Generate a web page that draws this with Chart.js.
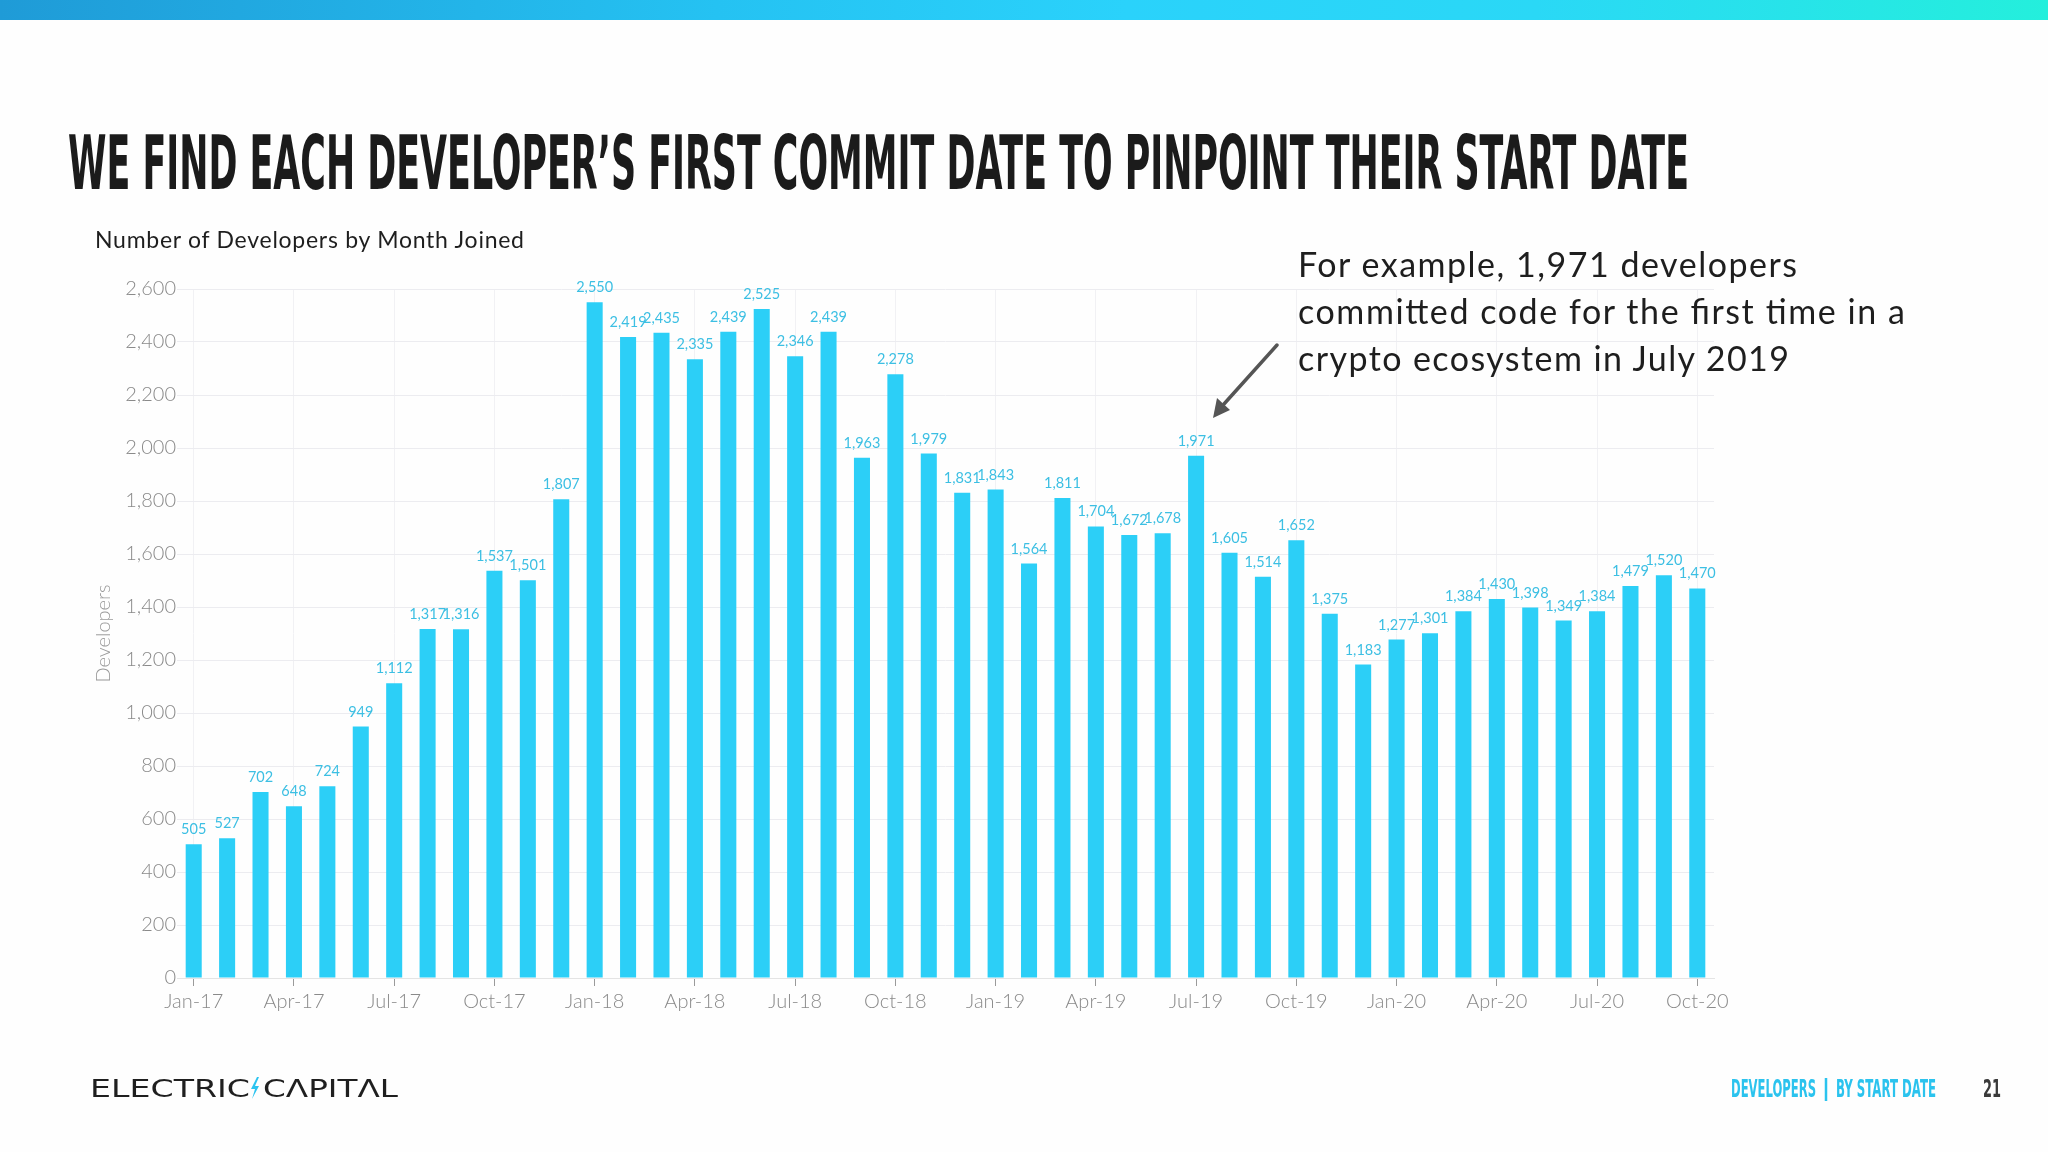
<!DOCTYPE html>
<html>
<head>
<meta charset="utf-8">
<script src="https://cdn.jsdelivr.net/npm/chart.js@4.4.1/dist/chart.umd.min.js"></script>
<style>
  html, body { margin: 0; padding: 0; background: #fefefe; }
  #page { position: relative; width: 2048px; height: 1152px; overflow: hidden; background: #fefefe; }
  #topbar { position: absolute; left: 0; top: 0; width: 2048px; height: 20px;
    background: linear-gradient(90deg, #1f9bd7 0%, #25c2f2 35%, #2ad2fb 55%, #2ad8f6 75%, #24efdc 100%); }
  #chart { position: absolute; left: 0; top: 0; }
  #overlay { position: absolute; left: 0; top: 0; pointer-events: none; }
</style>
</head>
<body>
<div id="page">
  <div id="topbar"></div>
  <canvas id="chart" width="2048" height="1152"></canvas>
  <svg id="overlay" width="2048" height="1152" viewBox="0 0 2048 1152">
    <!-- slide title -->
    <text x="68" y="189" font-family="Liberation Sans Narrow, DejaVu Sans Condensed, sans-serif" font-weight="700"
          font-size="75.6" fill="#1b1b1b" textLength="1621" lengthAdjust="spacingAndGlyphs">WE FIND EACH DEVELOPER’S FIRST COMMIT DATE TO PINPOINT THEIR START DATE</text>
    <!-- chart heading -->
    <text x="95" y="248" font-family="Lato, sans-serif" font-size="23" fill="#1e1e1e" textLength="429">Number of Developers by Month Joined</text>
    <!-- annotation -->
    <g font-family="Lato, sans-serif" font-size="34" fill="#1e1e1e">
      <text x="1298" y="277" textLength="499">For example, 1,971 developers</text>
      <text x="1298" y="324" textLength="607">committed code for the first time in a</text>
      <text x="1298" y="371" textLength="491">crypto ecosystem in July 2019</text>
    </g>
    <line x1="1277" y1="345" x2="1224" y2="404" stroke="#555" stroke-width="3.5" stroke-linecap="round"/>
    <polygon points="1213,418 1217,398 1230,410" fill="#555"/>
    <!-- footer logo -->
    <g style="font-family: 'DejaVu Sans', sans-serif; font-weight: 400; font-size: 25px;" fill="#1f1f1f">
      <text x="90" y="1097" textLength="160" lengthAdjust="spacingAndGlyphs">ELECTRIC</text>
      <text x="263" y="1097" textLength="135" lengthAdjust="spacingAndGlyphs">CΛPITΛL</text>
    </g>
    <polygon points="257,1077 251,1089 255,1089 252,1099 259,1086 255,1086 259,1077" fill="#2cc4f0"/>
    <!-- footer right -->
    <g font-family="Liberation Sans Narrow, DejaVu Sans Condensed, sans-serif" font-weight="700" font-size="24.7">
      <text x="1731" y="1097" fill="#2bc3ee" textLength="85" lengthAdjust="spacingAndGlyphs">DEVELOPERS</text>
      <text x="1836" y="1097" fill="#2bc3ee" textLength="100" lengthAdjust="spacingAndGlyphs">BY START DATE</text>
      <text x="1983" y="1097" fill="#3a3a3a" textLength="18" lengthAdjust="spacingAndGlyphs">21</text>
    </g>
    <line x1="1826" y1="1078" x2="1826" y2="1101" stroke="#2bc3ee" stroke-width="2.5"/>
  </svg>
</div>

<script>
// Month joined (Jan-17 .. Oct-20)
const months = [
    'Jan-17', 'Feb-17', 'Mar-17', 'Apr-17', 'May-17', 'Jun-17', 'Jul-17', 'Aug-17', 'Sep-17', 'Oct-17', 'Nov-17', 'Dec-17',
    'Jan-18', 'Feb-18', 'Mar-18', 'Apr-18', 'May-18', 'Jun-18', 'Jul-18', 'Aug-18', 'Sep-18', 'Oct-18', 'Nov-18', 'Dec-18',
    'Jan-19', 'Feb-19', 'Mar-19', 'Apr-19', 'May-19', 'Jun-19', 'Jul-19', 'Aug-19', 'Sep-19', 'Oct-19', 'Nov-19', 'Dec-19',
    'Jan-20', 'Feb-20', 'Mar-20', 'Apr-20', 'May-20', 'Jun-20', 'Jul-20', 'Aug-20', 'Sep-20', 'Oct-20'
];

// Number of developers who made their first commit in that month
const developers = [
    505, 527, 702, 648, 724, 949, 1112, 1317, 1316, 1537, 1501, 1807,
    2550, 2419, 2435, 2335, 2439, 2525, 2346, 2439, 1963, 2278, 1979, 1831,
    1843, 1564, 1811, 1704, 1672, 1678, 1971, 1605, 1514, 1652, 1375, 1183,
    1277, 1301, 1384, 1430, 1398, 1349, 1384, 1479, 1520, 1470
];

// y axis range
const yMax = 2600;
const yStep = 200;

// only every third month gets a tick label / tick mark
const labelEvery = 3;

const barColor = '#2ccff7';
const valueColor = '#3cbfe3';

// value labels above every bar
const barLabels = {
    id: 'barLabels',
    afterDatasetsDraw(chart) {
        const ctx = chart.ctx;
        const meta = chart.getDatasetMeta(0);
        ctx.save();
        ctx.font = '14.5px Lato, sans-serif';
        ctx.fillStyle = valueColor;
        ctx.textAlign = 'center';
        ctx.textBaseline = 'alphabetic';
        meta.data.forEach(function(bar, i) {
            ctx.fillText(developers[i].toLocaleString('en-US'), bar.x, bar.y - 10);
        });
        ctx.restore();
    }
};

new Chart(document.getElementById('chart'), {
    type: 'bar',
    data: {
        labels: months,
        datasets: [{
            label: 'Developers',
            data: developers,
            backgroundColor: barColor,
            borderWidth: 0,
            barPercentage: 0.48,
            categoryPercentage: 1
        }]
    },
    options: {
        responsive: false,
        animation: false,
        devicePixelRatio: 1,
        layout: {
            padding: { left: 77, right: 334, top: 289, bottom: 114 }
        },
        plugins: {
            legend: { display: false },
            tooltip: { enabled: false }
        },
        scales: {
            x: {
                offset: true,
                afterFit: function(scale) { scale.height = 60; },
                grid: {
                    offset: false,
                    drawTicks: true,
                    tickLength: 8,
                    lineWidth: 1,
                    color: function(ctx) {
                        return ctx.index % labelEvery === 0 ? '#f1f1f4' : 'rgba(0,0,0,0)';
                    },
                    tickColor: function(ctx) {
                        return ctx.index % labelEvery === 0 ? '#9a9a9a' : 'rgba(0,0,0,0)';
                    }
                },
                border: { color: '#e4e4e4' },
                ticks: {
                    autoSkip: false,
                    maxRotation: 0,
                    padding: 4,
                    color: '#8a8a8a',
                    font: { family: 'Lato, sans-serif', size: 20, weight: '300' },
                    callback: function(value, index) {
                        return index % labelEvery === 0 ? months[index] : '';
                    }
                }
            },
            y: {
                min: 0,
                max: yMax,
                afterFit: function(scale) { scale.width = 100; },
                grid: {
                    drawTicks: false,
                    color: '#ececf0'
                },
                border: { display: false },
                ticks: {
                    stepSize: yStep,
                    padding: 1,
                    color: '#8a8a8a',
                    font: { family: 'Lato, sans-serif', size: 20, weight: '300' },
                    callback: function(value) {
                        return value.toLocaleString('en-US');
                    }
                },
                title: {
                    display: true,
                    text: 'Developers',
                    color: '#9a9a9a',
                    padding: { top: 15, bottom: 0 },
                    font: { family: 'Lato, sans-serif', size: 20, weight: '300' }
                }
            }
        }
    },
    plugins: [barLabels]
});
</script>
</body>
</html>
